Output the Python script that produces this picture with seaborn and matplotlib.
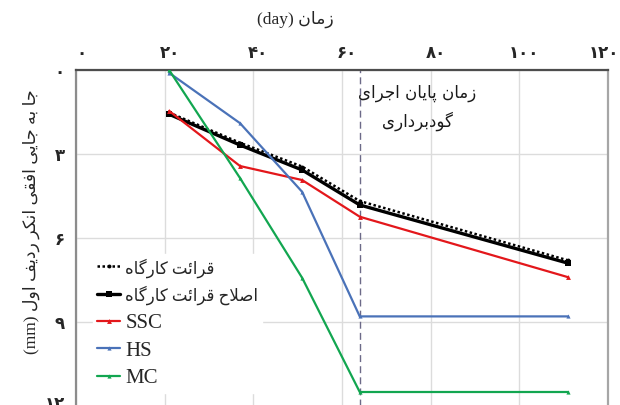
import numpy as np
import pandas as pd
import seaborn as sns
import matplotlib
matplotlib.use("Agg")
import matplotlib.pyplot as plt
from matplotlib.transforms import ScaledTranslation

# ---------------------------------------------------------------- data
days = [21, 37, 51, 64, 111]
site_reading = [1.52, 2.60, 3.45, 4.68, 6.80]
site_corrected = [1.58, 2.68, 3.57, 4.82, 6.90]
ssc = [1.46, 3.43, 3.93, 5.24, 7.40]
hs = [0.10, 1.90, 4.35, 8.80, 8.80]
mc = [0.00, 3.86, 7.42, 11.50, 11.50]

excavation_end_day = 64

x_ticks = [0, 20, 40, 60, 80, 100, 120]
x_tick_labels = ["۰", "۲۰", "۴۰", "۶۰", "۸۰", "۱۰۰", "۱۲۰"]
y_ticks = [0, 3, 6, 9, 12]
y_tick_labels = ["۰", "۳", "۶", "۹", "۱۲"]

label_site = "قرائت کارگاه"
label_corrected = "اصلاح قرائت کارگاه"
label_ssc = "SSC"
label_hs = "HS"
label_mc = "MC"
x_title_fa = "زمان"
y_title_fa = "جا به جایی افقی انکر ردیف اول"
note_line1 = "زمان پایان اجرای"
note_line2 = "گودبرداری"

# ------------------------------------------- minimal Persian text shaping
# (isolated, final, initial, medial) presentation forms
FORMS = {
    "ا": ("\uFE8D", "\uFE8E", None, None),
    "ب": ("\uFE8F", "\uFE90", "\uFE91", "\uFE92"),
    "پ": ("\uFB56", "\uFB57", "\uFB58", "\uFB59"),
    "ت": ("\uFE95", "\uFE96", "\uFE97", "\uFE98"),
    "ج": ("\uFE9D", "\uFE9E", "\uFE9F", "\uFEA0"),
    "ح": ("\uFEA1", "\uFEA2", "\uFEA3", "\uFEA4"),
    "د": ("\uFEA9", "\uFEAA", None, None),
    "ر": ("\uFEAD", "\uFEAE", None, None),
    "ز": ("\uFEAF", "\uFEB0", None, None),
    "ص": ("\uFEB9", "\uFEBA", "\uFEBB", "\uFEBC"),
    "ف": ("\uFED1", "\uFED2", "\uFED3", "\uFED4"),
    "ق": ("\uFED5", "\uFED6", "\uFED7", "\uFED8"),
    "ک": ("\uFB8E", "\uFB8F", "\uFB90", "\uFB91"),
    "گ": ("\uFB92", "\uFB93", "\uFB94", "\uFB95"),
    "ل": ("\uFEDD", "\uFEDE", "\uFEDF", "\uFEE0"),
    "م": ("\uFEE1", "\uFEE2", "\uFEE3", "\uFEE4"),
    "ن": ("\uFEE5", "\uFEE6", "\uFEE7", "\uFEE8"),
    "ه": ("\uFEE9", "\uFEEA", "\uFEEB", "\uFEEC"),
    "و": ("\uFEED", "\uFEEE", None, None),
    "ئ": ("\uFE89", "\uFE8A", "\uFE8B", "\uFE8C"),
    "ی": ("\uFBFC", "\uFBFD", "\uFBFE", "\uFBFF"),
    "\uFEFB": ("\uFEFB", "\uFEFC", None, None),  # lam-alef
}


def shape_fa(text):
    """Join Persian letters and return them in visual (left-to-right) order."""
    chars = list(text.replace("لا", "\uFEFB"))
    out = []
    for i, c in enumerate(chars):
        if c not in FORMS:
            out.append(c)
            continue
        prev = chars[i - 1] if i > 0 else None
        nxt = chars[i + 1] if i + 1 < len(chars) else None
        join_prev = prev in FORMS and FORMS[prev][2] is not None
        join_next = nxt in FORMS and FORMS[c][2] is not None
        iso, fin, ini, med = FORMS[c]
        if join_prev and join_next:
            out.append(med)
        elif join_prev:
            out.append(fin)
        elif join_next:
            out.append(ini)
        else:
            out.append(iso)
    return "".join(reversed(out))


# ---------------------------------------------------------------- style
sns.set_style("white")
plt.rcParams["font.family"] = ["DejaVu Sans"]
MIXED = ["Liberation Serif", "DejaVu Sans"]

fig = plt.figure(figsize=(6.2, 4.05), dpi=100)
ax = fig.add_axes([76 / 620, -1 / 405, (608 - 76) / 620, (406 - 70) / 405])

series = [
    (site_corrected, label_corrected, dict(color="black", lw=2.4, ls="-",
                                           marker="s", ms=4.0, mec="black", mew=0)),
    (site_reading, label_site, dict(color="black", lw=1.8, ls=(0, (1, 1)),
                                    marker="o", ms=2.8, mec="black", mew=0)),
    (ssc, label_ssc, dict(color="#e3171b", lw=1.6, ls="-",
                          marker="^", ms=3.5, mec="#e3171b", mew=0)),
    (hs, label_hs, dict(color="#4a72b8", lw=1.6, ls="-",
                        marker="^", ms=3.0, mec="#4a72b8", mew=0)),
    (mc, label_mc, dict(color="#12a650", lw=1.6, ls="-",
                        marker="^", ms=3.0, mec="#12a650", mew=0)),
]

handles = {}
for vals, lab, kw in series:
    df = pd.DataFrame({"day": days, "disp": vals})
    sns.lineplot(data=df, x="day", y="disp", ax=ax, sort=False,
                 label=lab, legend=False, zorder=3, **kw)
    handles[lab] = ax.lines[-1]

ax.axvline(excavation_end_day, color="#6c6a88", lw=1.0, ls=(0, (5, 3)), zorder=2.5)

ax.set_xlim(0, 120)
ax.set_ylim(12, 0)
ax.set_xticks(x_ticks)
ax.set_xticklabels(x_tick_labels)
ax.set_yticks(y_ticks)
ax.set_yticklabels(y_tick_labels)
ax.xaxis.tick_top()
ax.tick_params(axis="x", length=0, pad=6, labelsize=12)
ax.tick_params(axis="y", length=0, pad=8, labelsize=12)
for lbl in ax.get_xticklabels() + ax.get_yticklabels():
    lbl.set_fontweight("bold")
# small nudges of the tick labels
xt = ax.get_xticklabels()
for i, lbl in enumerate(xt):
    dx = -4 if i == len(xt) - 1 else 5
    lbl.set_transform(lbl.get_transform() + ScaledTranslation(dx / 100, 0, fig.dpi_scale_trans))
yt = ax.get_yticklabels()
yt[-1].set_transform(yt[-1].get_transform() + ScaledTranslation(0, 4 / 100, fig.dpi_scale_trans))
ax.set_xlabel("")
ax.set_ylabel("")
ax.grid(True, color="#dcdcdc", lw=1.0, zorder=0)
ax.set_axisbelow(True)

for side, col in [("top", "#4d4d4d"), ("left", "#8c8c8c"), ("right", "#a6a6a6")]:
    ax.spines[side].set_visible(True)
    ax.spines[side].set_color(col)
    ax.spines[side].set_linewidth(1.6)
ax.spines["bottom"].set_visible(False)

# note at the end-of-excavation line
ax.text(77, 1.34, shape_fa(note_line1) + "\n" + shape_fa(note_line2),
        ha="center", va="center", multialignment="center",
        fontsize=12, linespacing=1.6, color="#1a1a1a")

# legend
order = [label_site, label_corrected, label_ssc, label_hs, label_mc]
persian = (label_site, label_corrected)
leg = ax.legend([handles[k] for k in order],
                [shape_fa(k) if k in persian else k for k in order],
                loc="upper left", bbox_to_anchor=(93 / 620, 1 - 254 / 405),
                bbox_transform=fig.transFigure, frameon=True, framealpha=1,
                edgecolor="white", facecolor="white", fancybox=False,
                prop={"family": MIXED, "size": 15}, handlelength=1.1,
                handletextpad=0.25, labelspacing=0.39, borderpad=0.2,
                borderaxespad=0)
for k, txt in zip(order, leg.get_texts()):
    if k in persian:
        txt.set_fontsize(12)
leg.set_zorder(2)

# axis titles
fig.text(295 / 620, 1 - 19 / 405, "(day) " + shape_fa(x_title_fa),
         ha="center", va="center", fontsize=12.5, family=MIXED)
fig.text(31 / 620, 1 - 222 / 405, "(mm) " + shape_fa(y_title_fa),
         ha="center", va="center", rotation=90, fontsize=12.5, family=MIXED)

fig.savefig("out.png", dpi=100)
